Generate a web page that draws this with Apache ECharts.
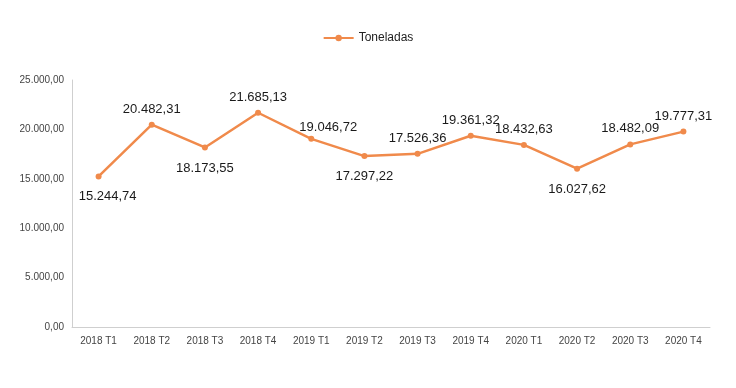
<!DOCTYPE html>
<html><head><meta charset="utf-8">
<script src="https://cdn.jsdelivr.net/npm/echarts@6/dist/echarts.min.js"></script>
<style>html,body{margin:0;padding:0;background:#fff}#c{width:736px;height:388px}</style>
</head><body><div id="c"></div>
<script>
var categories = ['2018 T1','2018 T2','2018 T3','2018 T4','2019 T1','2019 T2','2019 T3','2019 T4','2020 T1','2020 T2','2020 T3','2020 T4'];
var toneladas = [15244.74, 20482.31, 18173.55, 21685.13, 19046.72, 17297.22, 17526.36, 19361.32, 18432.63, 16027.62, 18482.09, 19777.31];
var labelPos = ['bottom','top','bottom','top','top','bottom','top','top','top','bottom','top','top'];
var yTicks = [0, 5000, 10000, 15000, 20000, 25000];

function fmt(v){
  var s = v.toFixed(2).split('.');
  var i = s[0].replace(/\B(?=(\d{3})+(?!\d))/g,'.');
  return i + ',' + s[1];
}
var nudge = {0:[9,0], 4:[17,4]};
var chart = echarts.init(document.getElementById('c'));
chart.setOption({
  animation:false,
  legend:{top:27,left:'center',itemWidth:30,itemHeight:8,itemGap:4,
    textStyle:{fontFamily:'Liberation Sans',fontSize:12,color:'#222'},
    data:['Toneladas']},
  grid:{left:72,right:26,top:80,bottom:61},
  xAxis:{type:'category',data:categories,
    axisLine:{lineStyle:{color:'#cfcfcf'}},axisTick:{show:false},
    axisLabel:{fontFamily:'Liberation Sans',fontSize:10,color:'#444',margin:9}},
  yAxis:{type:'value',min:yTicks[0],max:yTicks[yTicks.length-1],interval:5000,
    axisLine:{show:true,lineStyle:{color:'#cfcfcf'}},splitLine:{show:false},
    axisLabel:{fontFamily:'Liberation Sans',fontSize:10,color:'#444',margin:8,formatter:function(v){return fmt(v);}}},
  series:[{name:'Toneladas',type:'line',
    data:toneladas.map(function(v,i){
      var top = labelPos[i]==='top';
      var lab = {position:labelPos[i],distance: top?6:11};
      if (nudge[i]) lab.offset = nudge[i];
      return {value:v,label:lab};
    }),
    symbol:'circle',symbolSize:6,
    lineStyle:{color:'#F08A4B',width:2.5},
    itemStyle:{color:'#F08A4B'},
    label:{show:true,fontFamily:'Liberation Sans',fontSize:13,color:'#1a1a1a',
      formatter:function(p){return fmt(p.value);}}}]
});
</script></body></html>
